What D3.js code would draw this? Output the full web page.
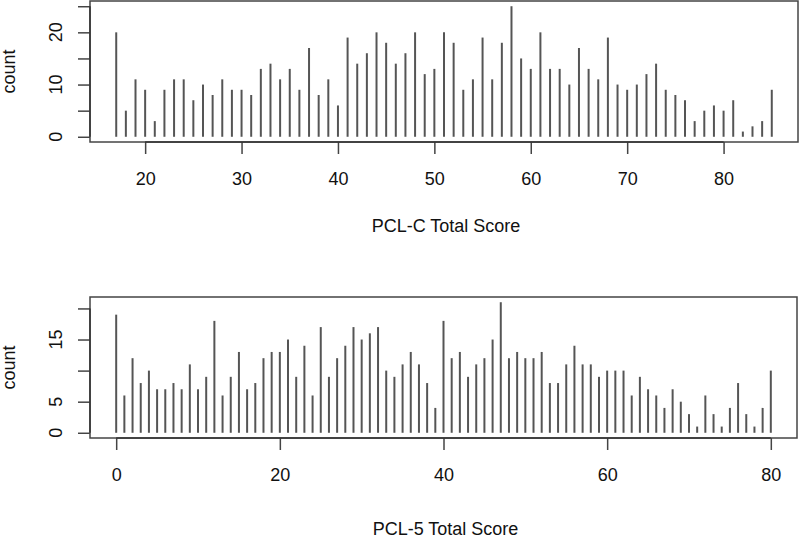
<!DOCTYPE html>
<html>
<head>
<meta charset="utf-8">
<script src="https://cdn.jsdelivr.net/npm/d3@7"></script>
<style>
  html, body { margin: 0; padding: 0; background: #fff; }
  svg { display: block; }
  text { font-family: "Liberation Sans", Arial, Helvetica, sans-serif; fill: #111; }
</style>
</head>
<body>
<svg id="chart" width="800" height="540"></svg>
<script>
// ---- Data ----
const pclcScores = d3.range(17, 86);
const pclcCounts = [20, 5, 11, 9, 3, 9, 11, 11, 7, 10, 8, 11, 9, 9, 8, 13, 14, 11, 13, 9,
                    17, 8, 11, 6, 19, 14, 16, 20, 18, 14, 16, 20, 12, 13, 20, 18, 9, 11, 19, 11,
                    18, 25, 15, 13, 20, 13, 13, 10, 17, 13, 11, 19, 10, 9, 10, 12, 14, 9, 8, 7,
                    3, 5, 6, 5, 7, 1, 2, 3, 9];
const pclcXTicks = [20, 30, 40, 50, 60, 70, 80];
const pclcYTicks = [0, 5, 10, 15, 20, 25];
const pclcYLabels = [0, 10, 20];

const pcl5Scores = d3.range(0, 81);
const pcl5Counts = [19, 6, 12, 8, 10, 7, 7, 8, 7, 11, 7, 9, 18, 6, 9, 13, 7, 8, 12, 13,
                    13, 15, 9, 14, 6, 17, 9, 12, 14, 17, 15, 16, 17, 10, 9, 11, 13, 11, 8, 4,
                    18, 12, 13, 9, 11, 12, 15, 21, 12, 13, 12, 12, 13, 8, 8, 11, 14, 11, 11, 9,
                    10, 10, 10, 6, 9, 7, 6, 4, 7, 5, 3, 1, 6, 3, 1, 4, 8, 3, 1, 4, 10];
const pcl5XTicks = [0, 20, 40, 60, 80];
const pcl5YTicks = [0, 5, 10, 15, 20];
const pcl5YLabels = [0, 5, 15];

const svg = d3.select("#chart");

function panel(cfg) {
  const { scores, counts, xTicks, yTicks, yLabels, title, left, right, top, bottom, titleY } = cfg;
  const xmin = d3.min(scores), xmax = d3.max(scores);
  const ymax = d3.max(counts);
  const xpad = (xmax - xmin) * 0.04, ypad = ymax * 0.04;
  const x = d3.scaleLinear().domain([xmin - xpad, xmax + xpad]).range([left, right]);
  const y = d3.scaleLinear().domain([-ypad, ymax + ypad]).range([bottom, top]);
  const g = svg.append("g");

  // spikes
  g.selectAll("line.bar").data(scores).join("line")
    .attr("class", "bar")
    .attr("x1", d => x(d)).attr("x2", d => x(d))
    .attr("y1", y(0)).attr("y2", (d, i) => y(counts[i]))
    .attr("stroke", "#555").attr("stroke-width", 2);

  // box
  g.append("rect")
    .attr("x", left).attr("y", top)
    .attr("width", right - left).attr("height", bottom - top)
    .attr("fill", "none").attr("stroke", "#444").attr("stroke-width", 1.5);

  // x axis
  const xa = g.append("g").attr("transform", `translate(0,${bottom})`)
    .call(d3.axisBottom(x).tickValues(xTicks).tickSize(12).tickSizeOuter(0).tickPadding(18.5));
  xa.select(".domain").remove();
  xa.append("line")
    .attr("x1", x(xTicks[0])).attr("x2", x(xTicks[xTicks.length - 1]))
    .attr("y1", 0).attr("y2", 0).attr("stroke", "#333").attr("stroke-width", 1.5);
  xa.selectAll(".tick line").attr("stroke", "#444").attr("stroke-width", 1.5);
  xa.selectAll(".tick text").style("font-size", "18px")
    .style("font-family", '"Liberation Sans", Arial, sans-serif').attr("fill", "#111");

  // y axis
  const ya = g.append("g").attr("transform", `translate(${left},0)`)
    .call(d3.axisLeft(y).tickValues(yTicks).tickSize(12).tickSizeOuter(0).tickFormat(""));
  ya.select(".domain").remove();
  ya.append("line")
    .attr("x1", 0).attr("x2", 0)
    .attr("y1", y(yTicks[0])).attr("y2", y(yTicks[yTicks.length - 1]))
    .attr("stroke", "#333").attr("stroke-width", 1.5);
  ya.selectAll(".tick line").attr("stroke", "#444").attr("stroke-width", 1.5);

  g.selectAll("text.ylab").data(yLabels).join("text")
    .attr("class", "ylab")
    .attr("transform", d => `translate(61.5,${y(d)}) rotate(-90)`)
    .attr("text-anchor", "middle")
    .style("font-size", "18px")
    .text(d => d);

  // y title
  g.append("text")
    .attr("transform", `translate(15,${(top + bottom) / 2}) rotate(-90)`)
    .attr("text-anchor", "middle")
    .style("font-size", "18px")
    .text("count");

  // x title
  g.append("text")
    .attr("x", (left + right) / 2 + 2).attr("y", titleY)
    .attr("text-anchor", "middle")
    .style("font-size", "18px")
    .text(title);
}

panel({ scores: pclcScores, counts: pclcCounts, xTicks: pclcXTicks, yTicks: pclcYTicks,
        yLabels: pclcYLabels, title: "PCL-C Total Score",
        left: 90, right: 798, top: 1, bottom: 142, titleY: 232 });

panel({ scores: pcl5Scores, counts: pcl5Counts, xTicks: pcl5XTicks, yTicks: pcl5YTicks,
        yLabels: pcl5YLabels, title: "PCL-5 Total Score",
        left: 90, right: 797, top: 297, bottom: 438, titleY: 535 });
</script>
</body>
</html>
